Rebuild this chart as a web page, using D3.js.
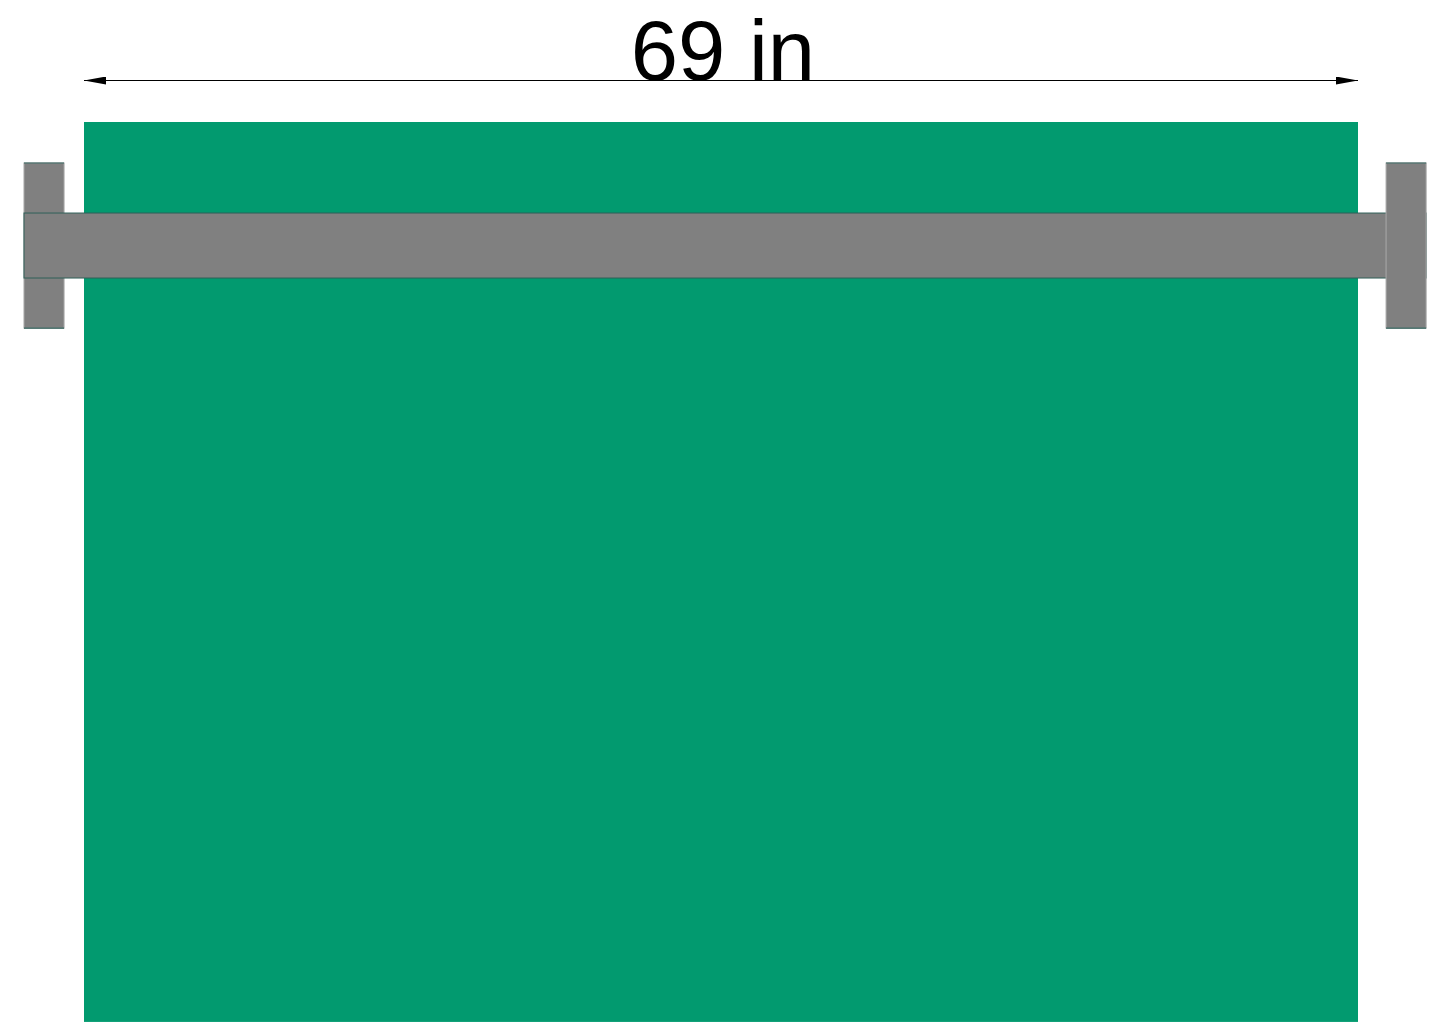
<!DOCTYPE html>
<html><head><meta charset="utf-8">
<script src="https://cdn.jsdelivr.net/npm/d3@7/dist/d3.min.js"></script>
<style>html,body{margin:0;padding:0;background:#fff;}svg{display:block;}</style>
</head><body>
<script>
// Dimensions in inches
const shadeWidth = [69];
const shadeHeight = [48.74];
const widthLabels = ["69 in"];
const rodOverhangLeft = [3.25], rodOverhangRight = [3.69];
const rodTop = [4.93], rodBottom = [8.45];
const bracketWidth = [2.17];
const bracketTop = [2.22], bracketBottom = [11.16];

const W = 1436, H = 1026;
const svg = d3.select("body").append("svg").attr("width", W).attr("height", H);

const x = d3.scaleLinear().domain([0, shadeWidth[0]]).range([84, 1358]);
const pxPerIn = (1358 - 84) / shadeWidth[0];
const y = d3.scaleLinear().domain([0, shadeHeight[0]]).range([122, 122 + shadeHeight[0] * pxPerIn]);

const defs = svg.append("defs");
["start","end"].forEach(k => {
  defs.append("marker").attr("id","arr-"+k)
    .attr("viewBox","0 0 22 8").attr("refX", k==="end"?22:0).attr("refY",4)
    .attr("markerWidth",22).attr("markerHeight",8).attr("markerUnits","userSpaceOnUse")
    .attr("orient","auto")
    .append("path").attr("d", k==="end" ? "M0,0 L22,4 L0,8 Z" : "M22,0 L0,4 L22,8 Z").attr("fill","#000");
});

// shade
svg.append("rect").attr("x", x(0)).attr("y", y(0))
  .attr("width", x(shadeWidth[0]) - x(0)).attr("height", y(shadeHeight[0]) - y(0))
  .attr("fill", "#029a6f");

function drawBracket(pos) {
  const g = svg.append("g").attr("class", "bracket");
  g.append("rect")
    .attr("x", x(pos)).attr("y", y(bracketTop[0]))
    .attr("width", x(bracketWidth[0]) - x(0)).attr("height", y(bracketBottom[0]) - y(bracketTop[0]))
    .attr("fill", "#808080").attr("stroke", "#a8a8a8").attr("stroke-width", 1);
  [bracketTop[0], bracketBottom[0]].forEach(v => {
    g.append("line").attr("x1", x(pos)).attr("x2", x(pos + bracketWidth[0]))
      .attr("y1", y(v)).attr("y2", y(v)).attr("stroke", "#2f5f58").attr("stroke-width", 1.2);
  });
}

// left bracket (under rod)
drawBracket(-rodOverhangLeft[0]);

// rod
svg.append("rect").attr("x", x(-rodOverhangLeft[0])).attr("y", y(rodTop[0]))
  .attr("width", x(shadeWidth[0] + rodOverhangRight[0]) - x(-rodOverhangLeft[0]))
  .attr("height", y(rodBottom[0]) - y(rodTop[0]))
  .attr("fill", "#808080").attr("stroke", "#2f5f58").attr("stroke-width", 1);

// right bracket (over rod)
drawBracket(shadeWidth[0] + rodOverhangRight[0] - bracketWidth[0]);

// dimension arrow
svg.append("line").attr("x1", x(0)).attr("x2", x(shadeWidth[0])).attr("y1", 80.5).attr("y2", 80.5)
  .attr("stroke", "#000").attr("stroke-width", 1.2)
  .attr("marker-start", "url(#arr-start)").attr("marker-end", "url(#arr-end)");

svg.append("text").attr("x", x(shadeWidth[0] / 2) + 2).attr("y", 80)
  .attr("text-anchor", "middle").attr("font-family", "Liberation Sans, Arial, sans-serif")
  .attr("font-size", 85).attr("fill", "#000").text(widthLabels[0]);
</script>
</body></html>
